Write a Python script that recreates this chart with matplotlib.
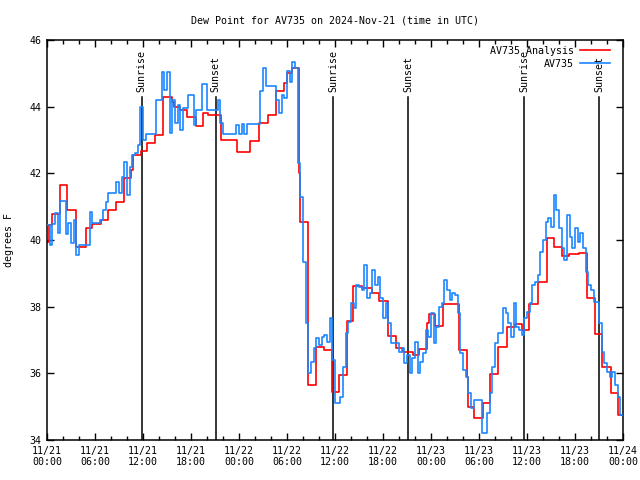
import numpy as np
import matplotlib
matplotlib.use("Agg")
import matplotlib.pyplot as plt

# hours since 2024-11-21 00:00 UTC
red_hours = [0, 0.25, 0.66, 1.63, 2.54, 3.59, 4.84, 5.66, 6.71, 7.66, 8.59, 9.63,
             10.5, 10.79, 11.75, 12.54, 13.5, 14.54, 15.59, 15.91, 16.63, 17.46,
             18.63, 19.54, 20.16, 21.71, 23.75, 25.4, 26.54, 27.66, 28.63, 29.66,
             29.96, 30.66, 31.54, 31.63, 32.59, 32.66, 33.59, 34.63, 35.66, 36.54,
             37.54, 38.29, 39.41, 40.59, 41.54, 42.66, 43.63, 44.54, 45.79, 46.54,
             47.54, 47.79, 48.5, 49.46, 51.54, 52.46, 52.59, 53.41, 54.46, 55.38,
             56.41, 57.46, 58.5, 59.41, 60.29, 61.34, 62.46, 63.41, 64.34, 65.25,
             66.5, 67.44, 68.5, 69.41, 70.46, 71.41]
red_vals = [39.93, 40.45, 40.77, 41.65, 40.9, 39.8, 40.35, 40.47, 40.6, 40.9, 41.13, 41.85,
            42.1, 42.55, 42.68, 42.9, 43.15, 44.3, 44.15, 44.0, 43.9, 43.7,
            43.42, 43.82, 43.75, 43.0, 42.65, 42.97, 43.52, 43.75, 44.47, 44.7,
            45.0, 45.15, 42.0, 40.55, 38.0, 35.65, 36.8, 36.7, 35.45, 35.95,
            37.57, 38.63, 38.55, 38.4, 38.17, 37.12, 36.75, 36.65, 36.55, 36.72,
            37.5, 37.78, 37.42, 38.08, 36.7, 35.9, 34.98, 34.65, 35.12, 35.97,
            36.8, 37.4, 37.47, 37.3, 38.07, 38.73, 40.05, 39.8, 39.52, 39.57,
            39.62, 38.25, 37.17, 36.18, 35.4, 34.75]

# station readings, one every 20 minutes
blue_vals = [40.45, 39.85, 40.47, 40.82, 40.22, 41.18, 41.18, 40.18, 40.5, 39.9, 40.6, 39.55,
             39.85, 39.85, 39.85, 39.85, 40.85, 40.52, 40.52, 40.52, 40.6, 40.9, 41.15, 41.42,
             41.42, 41.42, 41.75, 41.4, 41.9, 42.35, 41.35, 42.2, 42.55, 42.6, 42.85, 43.98,
             43.0, 43.18, 43.18, 43.18, 43.18, 44.2, 44.2, 45.05, 44.5, 45.05, 43.2, 44.2,
             43.5, 44.05, 43.3, 43.95, 43.95, 44.35, 44.35, 43.45, 43.9, 43.9, 44.67, 44.67,
             43.9, 43.9, 43.9, 43.9, 44.2, 43.5, 43.17, 43.17, 43.17, 43.17, 43.17, 43.45,
             43.17, 43.47, 43.17, 43.47, 43.47, 43.47, 43.47, 43.47, 44.47, 45.17, 44.63, 44.63,
             44.63, 44.63, 44.2, 43.8, 44.35, 44.25, 45.07, 44.75, 45.33, 45.15, 42.3, 41.3,
             39.35, 37.5, 36.0, 36.35, 36.75, 37.05, 36.85, 37.1, 37.15, 36.95, 37.65, 36.4,
             35.1, 35.1, 35.3, 36.2, 37.2, 37.55, 38.1, 37.95, 38.65, 38.6, 38.5, 39.25,
             38.25, 38.4, 39.1, 38.65, 38.9, 38.25, 37.65, 38.1, 37.5, 36.9, 36.9, 36.9,
             36.65, 36.75, 36.3, 36.55, 36.0, 36.45, 36.95, 36.0, 36.35, 36.6, 37.3, 37.1,
             37.8, 36.9, 37.4, 38.0, 38.1, 38.8, 38.5, 38.2, 38.4, 38.35, 37.8, 36.6,
             36.1, 35.9, 35.4, 34.95, 35.2, 35.2, 35.2, 34.2, 34.2, 34.8, 35.4, 36.2,
             36.9, 37.2, 37.2, 37.95, 37.8, 37.5, 37.1, 38.1, 37.4, 37.3, 37.15, 37.65,
             37.85, 38.1, 38.65, 38.75, 38.95, 39.65, 40.0, 40.55, 40.65, 40.4, 41.35, 40.9,
             40.35, 39.75, 39.4, 40.75, 40.1, 39.75, 40.35, 39.95, 40.2, 39.75, 39.05, 38.65,
             38.5, 38.15, 38.15, 37.5, 36.65, 36.3, 36.05, 35.9, 36.05, 35.65, 35.3, 34.75]

sun_hours = [11.83, 21.1, 35.8, 45.17, 59.67, 69.04]
sun_names = ["Sunrise", "Sunset", "Sunrise", "Sunset", "Sunrise", "Sunset"]

tick_hours = [0, 6, 12, 18, 24, 30, 36, 42, 48, 54, 60, 66, 72]
tick_labels = ["11/21\n00:00", "11/21\n06:00", "11/21\n12:00", "11/21\n18:00",
               "11/22\n00:00", "11/22\n06:00", "11/22\n12:00", "11/22\n18:00",
               "11/23\n00:00", "11/23\n06:00", "11/23\n12:00", "11/23\n18:00",
               "11/24\n00:00"]

plt.rcParams['font.family'] = ['DejaVu Sans Mono']
plt.rcParams['font.size'] = 7.2

fig = plt.figure(figsize=(6.4, 4.8), dpi=100)
ax = fig.add_axes([47/640, 1 - 440/480, 576/640, 400/480])

for h, name in zip(sun_hours, sun_names):
    ax.axvline(h, ymin=0, ymax=0.857, color='black', lw=1.1, zorder=1)
    ax.text(h, 0.87, name, transform=ax.get_xaxis_transform(), rotation=90,
            ha='center', va='bottom', fontsize=7.2)

rx = np.append(red_hours, 72)
ry = np.append(red_vals, red_vals[-1])
ax.step(rx, ry, where='post', color='#ff0000', lw=1.2, label='AV735 Analysis', zorder=2)

bx = np.arange(len(blue_vals) + 1) / 3.0
by = np.append(blue_vals, blue_vals[-1])
ax.step(bx, by, where='post', color='#1a86ff', lw=1.2, label='AV735', zorder=3)

ax.set_xlim(0, 72)
ax.set_ylim(34, 46)
ax.set_xticks(tick_hours)
ax.set_xticklabels(tick_labels)
ax.set_xticks(np.arange(0, 73, 2), minor=True)
ax.set_yticks([34, 36, 38, 40, 42, 44, 46])
ax.tick_params(which='both', direction='in', top=True, right=True, width=1)
ax.tick_params(which='major', length=5, pad=4)
ax.tick_params(which='minor', length=3)
for s in ax.spines.values():
    s.set_linewidth(1.1)

ax.set_ylabel('degrees F', labelpad=11)
ax.set_title('Dew Point for AV735 on 2024-Nov-21 (time in UTC)', fontsize=7.2, pad=12)

leg = ax.legend(loc='upper right', bbox_to_anchor=(0.988, 1.0), frameon=False,
                markerfirst=False, handlelength=3.0, borderaxespad=0.2,
                labelspacing=0.3, handletextpad=0.6)
for t in leg.get_texts():
    t.set_ha('right')

fig.savefig('out.png', dpi=100)
